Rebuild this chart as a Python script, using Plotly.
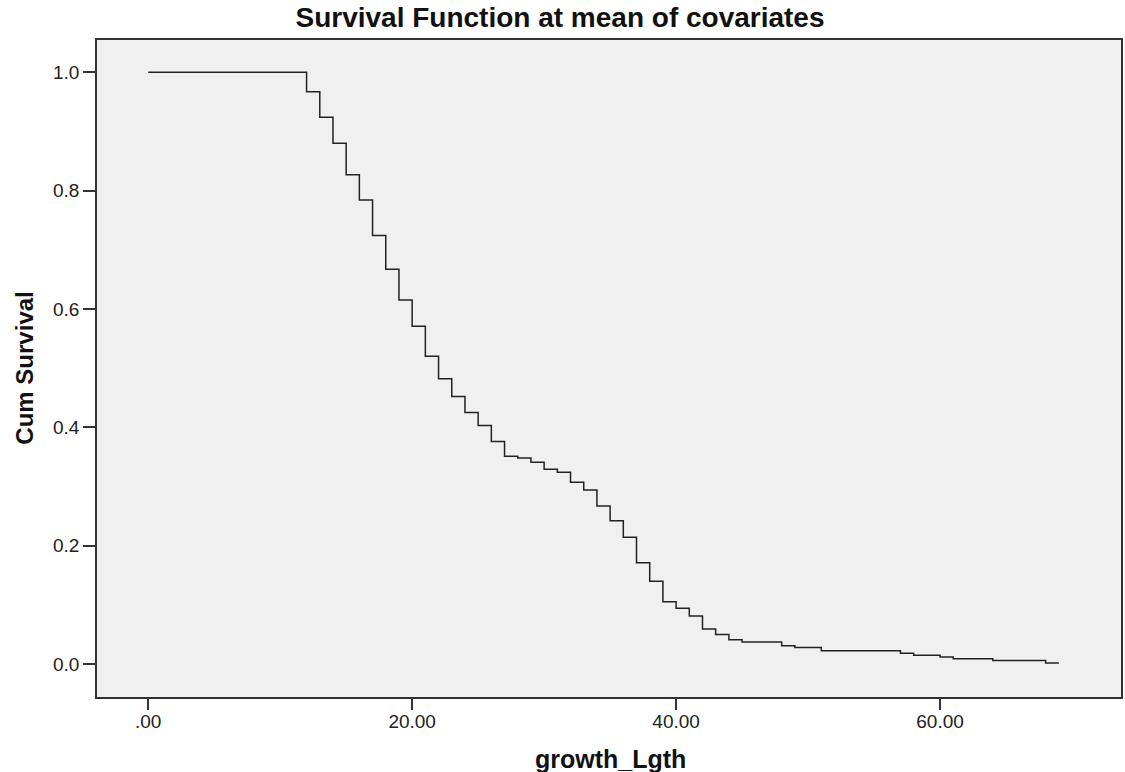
import plotly.graph_objects as go

# Data (step survival curve)
times = [0, 12, 13, 14, 15, 16, 17, 18, 19, 20, 21, 22, 23, 24, 25, 26, 27, 28, 29, 30,
         31, 32, 33, 34, 35, 36, 37, 38, 39, 40, 41, 42, 43, 44, 45, 48, 49, 51, 57, 58,
         60, 61, 64, 68, 69]
cum_survival = [1.0, 0.967, 0.924, 0.880, 0.827, 0.784, 0.724, 0.667, 0.615, 0.571, 0.520,
                0.482, 0.452, 0.425, 0.403, 0.376, 0.351, 0.348, 0.341, 0.329, 0.324, 0.307,
                0.294, 0.267, 0.242, 0.214, 0.171, 0.140, 0.105, 0.094, 0.081, 0.059, 0.050,
                0.041, 0.037, 0.031, 0.028, 0.0225, 0.018, 0.0147, 0.0118, 0.009, 0.006,
                0.0017, 0.0017]

x_tickvals = [0, 20, 40, 60]
x_ticktext = [".00", "20.00", "40.00", "60.00"]
y_tickvals = [0.0, 0.2, 0.4, 0.6, 0.8, 1.0]
y_ticktext = ["0.0", "0.2", "0.4", "0.6", "0.8", "1.0"]

FONT = "Liberation Sans, Arial, sans-serif"

fig = go.Figure()
fig.add_trace(go.Scatter(
    x=times, y=cum_survival, mode="lines",
    line=dict(shape="hv", color="#222222", width=1.5),
    showlegend=False, hoverinfo="x+y",
))

W, H = 1125, 772
ml, mr, mt, mb = 97, 2, 40, 75
pw, ph = W - ml - mr, H - mt - mb

fig.update_layout(
    width=W, height=H,
    margin=dict(l=ml, r=mr, t=mt, b=mb, pad=0),
    paper_bgcolor="white",
    plot_bgcolor="#F0F0F0",
    font=dict(family=FONT, color="#222222"),
    title=dict(text="<b>Survival Function at mean of covariates</b>",
               font=dict(family=FONT, size=28, color="#111111"),
               xref="container", x=560 / W, xanchor="center",
               yref="container", y=1 - 7 / H, yanchor="top"),
    xaxis=dict(range=[-3.88, 73.71], tickvals=x_tickvals, ticktext=x_ticktext,
               ticks="outside", ticklen=11, tickwidth=1.5, tickcolor="#333333",
               ticklabelstandoff=-5,
               showline=True, linecolor="#333333", linewidth=1.5, mirror=True,
               showgrid=False, zeroline=False,
               tickfont=dict(family=FONT, size=19, color="#222222")),
    yaxis=dict(range=[-0.0558, 1.0546], tickvals=y_tickvals, ticktext=y_ticktext,
               ticks="outside", ticklen=12, tickwidth=1.5, tickcolor="#333333",
               showline=True, linecolor="#333333", linewidth=1.5, mirror=True,
               showgrid=False, zeroline=False,
               tickfont=dict(family=FONT, size=19, color="#222222")),
)

fig.add_annotation(text="<b>growth_Lgth</b>", xref="paper", yref="paper",
                   x=(612 - ml) / pw, y=-(743 - (H - mb)) / ph,
                   xanchor="center", yanchor="top", showarrow=False,
                   font=dict(family=FONT, size=25, color="#111111"))
fig.add_annotation(text="<b>Cum Survival</b>", xref="paper", yref="paper",
                   x=(24 - ml) / pw, y=0.5, textangle=-90,
                   xanchor="center", yanchor="middle", showarrow=False,
                   font=dict(family=FONT, size=24, color="#111111"))

fig.write_html("out.html",
               config={"displayModeBar": False},
               post_script="document.body.style.margin='0px';"
                           "document.body.style.overflow='hidden';")
